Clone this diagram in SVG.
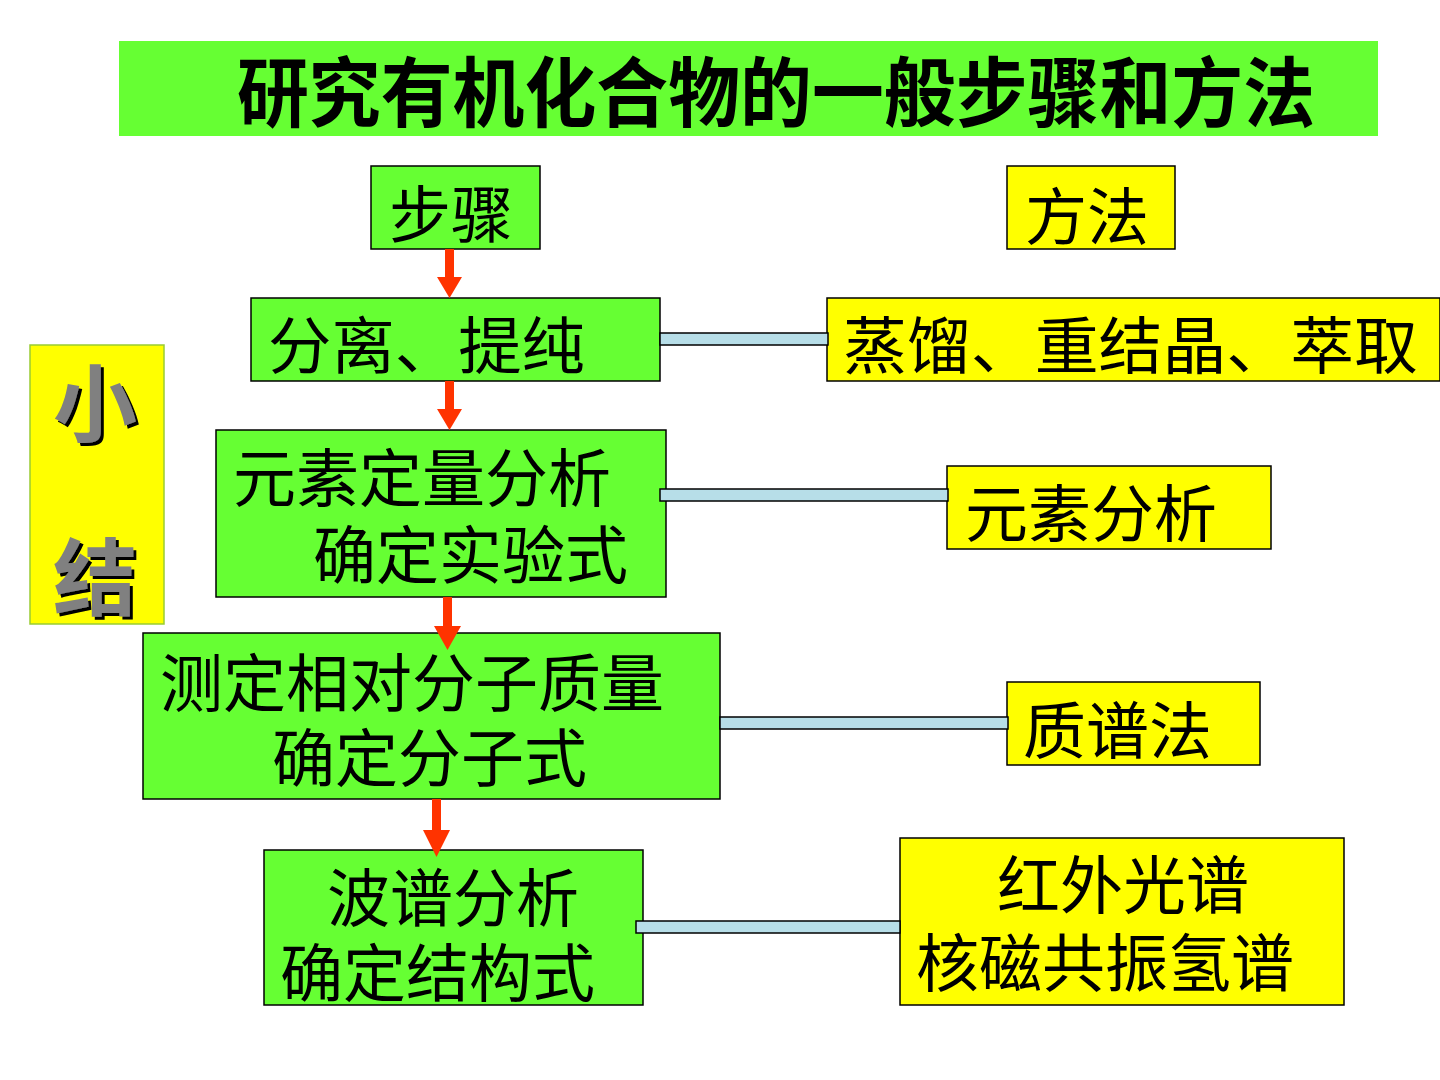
<svg xmlns="http://www.w3.org/2000/svg" width="1440" height="1080" viewBox="0 0 1440 1080">
<defs>
<filter id="sh" x="-10%" y="-10%" width="130%" height="130%">
<feOffset in="SourceAlpha" dx="3" dy="3" result="o"/>
<feFlood flood-color="#000"/>
<feComposite in2="o" operator="in" result="s"/>
<feMerge><feMergeNode in="s"/><feMergeNode in="SourceGraphic"/></feMerge>
</filter>
</defs>
<style>
.g{fill:#66FF33;stroke:#000;stroke-width:1.5}
.y{fill:#FFFF00;stroke:#000;stroke-width:1.5}
.t{font-family:"Noto Sans CJK SC","Noto Sans",sans-serif;font-size:62px;fill:#000}
.m{font-family:"Noto Sans CJK SC","Noto Sans",sans-serif;font-size:63px;fill:#000}
.c{fill:#B7DEE8;stroke:#000;stroke-width:1.5}
.a{fill:#FF3300}
.x{font-family:"Noto Sans CJK SC",sans-serif;font-size:84px;font-weight:bold;fill:#808080}
</style>
<rect width="1440" height="1080" fill="#fff"/>
<g id="title">
<rect x="119" y="41" width="1259" height="95" fill="#66FF33"/>
<text x="237" y="121" font-family="'Noto Sans CJK SC',sans-serif" font-size="76" font-weight="bold" textLength="1078" lengthAdjust="spacingAndGlyphs">研究有机化合物的一般步骤和方法</text>
</g>
<g id="summary">
<rect x="30" y="345" width="134" height="279" fill="#FFFF00" stroke="#99CC33" stroke-width="1.5"/>
<text class="x" filter="url(#sh)"><tspan x="53" y="435">小</tspan><tspan x="53" y="609">结</tspan></text>
</g>
<g id="steps">
<rect class="g" x="371" y="166" width="169" height="83"/>
<text class="t" x="389" y="238">步骤</text>
</g>
<g id="methods">
<rect class="y" x="1007" y="166" width="168" height="83"/>
<text class="t" x="1025" y="240">方法</text>
</g>
<g id="s1">
<rect class="g" x="251" y="298" width="409" height="83"/>
<text class="t" x="268" y="369" textLength="317" lengthAdjust="spacingAndGlyphs">分离、提纯</text>
</g>
<g id="m1">
<rect class="y" x="827" y="298" width="613" height="83"/>
<text class="t" x="843" y="369" textLength="575" lengthAdjust="spacingAndGlyphs">蒸馏、重结晶、萃取</text>
</g>
<g id="s2">
<rect class="g" x="216" y="430" width="450" height="167"/>
<text class="m"><tspan x="233" y="501">元素定量分析</tspan><tspan x="313" y="578">确定实验式</tspan></text>
</g>
<g id="m2">
<rect class="y" x="947" y="466" width="324" height="83"/>
<text class="t" x="965" y="537" textLength="252" lengthAdjust="spacingAndGlyphs">元素分析</text>
</g>
<g id="s3">
<rect class="g" x="143" y="633" width="577" height="166"/>
<text class="m"><tspan x="160" y="706">测定相对分子质量</tspan><tspan x="272" y="781">确定分子式</tspan></text>
</g>
<g id="m3">
<rect class="y" x="1007" y="682" width="253" height="83"/>
<text class="t" x="1023" y="754" textLength="189" lengthAdjust="spacingAndGlyphs">质谱法</text>
</g>
<g id="s4">
<rect class="g" x="264" y="850" width="379" height="155"/>
<text class="m"><tspan x="327" y="921">波谱分析</tspan><tspan x="280" y="996">确定结构式</tspan></text>
</g>
<g id="m4">
<rect class="y" x="900" y="838" width="444" height="167"/>
<text class="m"><tspan x="997" y="908">红外光谱</tspan><tspan x="916" y="986">核磁共振氢谱</tspan></text>
</g>
<g id="connectors">
<rect class="a" x="445" y="249" width="9" height="30"/>
<polygon class="a" points="437,277 462,277 449.5,298"/>
<rect class="a" x="445" y="381" width="9" height="30"/>
<polygon class="a" points="437,409 462,409 449.5,430"/>
<rect class="a" x="443" y="597" width="9" height="30"/>
<polygon class="a" points="434,626 461,626 447.5,650"/>
<rect class="a" x="432" y="799" width="9" height="32"/>
<polygon class="a" points="423,830 450,830 436.5,857"/>
<rect class="c" x="660" y="333" width="168" height="12"/>
<rect class="c" x="660" y="489" width="288" height="12"/>
<rect class="c" x="720" y="717" width="288" height="12"/>
<rect class="c" x="636" y="921" width="264" height="12"/>
</g>
</svg>
